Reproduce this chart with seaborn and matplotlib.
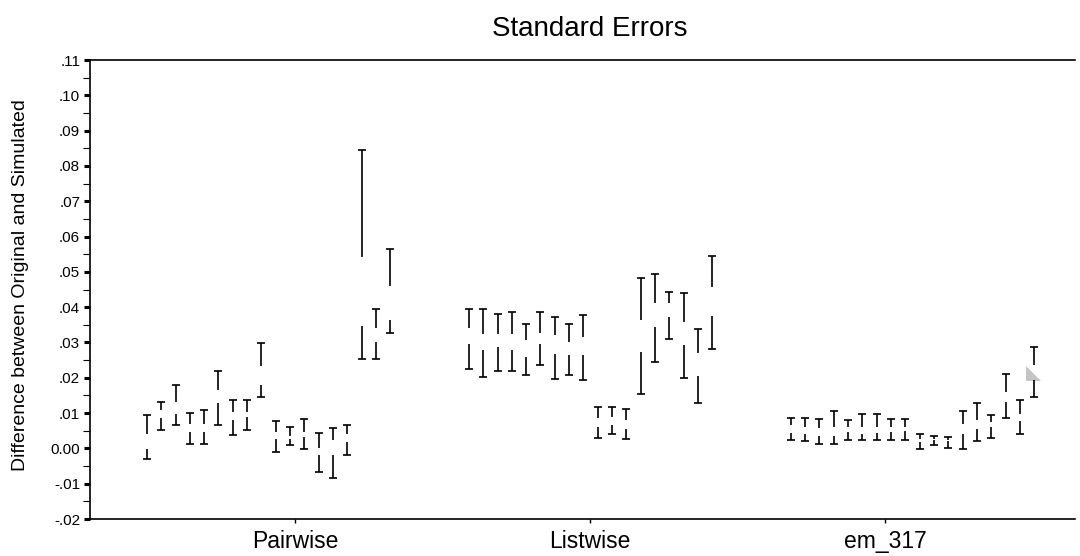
import numpy as np
import matplotlib
matplotlib.use("Agg")
import matplotlib.pyplot as plt
import seaborn as sns
from matplotlib.ticker import FuncFormatter, MultipleLocator

sns.set_theme(style="white")
plt.rcParams['font.family'] = ['Liberation Sans', 'DejaVu Sans']
plt.rcParams['text.color'] = 'black'
plt.rcParams['axes.labelcolor'] = 'black'
plt.rcParams['xtick.color'] = 'black'
plt.rcParams['ytick.color'] = 'black'

categories = ["Pairwise", "Listwise", "em_317"]

# each bar: top cap, end of upper piece, start of lower piece, bottom cap
pw_hi = [.0096, .0132, .0181, .0100, .0110, .0219, .0136, .0136, .0299,
         .0079, .0060, .0084, .0043, .0058, .0065, .0844, .0396, .0564]
pw_a = [.0042, .0108, .0131, .0068, .0068, .0165, .0103, .0103, .0233,
        .0046, .0034, .0046, .0002, .0025, .0042, .0541, .0341, .0460]
pw_b = [-.0001, .0087, .0098, .0046, .0046, .0129, .0081, .0089, .0179,
        .0028, .0026, .0032, -.0020, -.0020, .0018, .0348, .0300, .0363]
pw_lo = [-.0031, .0053, .0065, .0013, .0013, .0065, .0039, .0053, .0146,
         -.0010, .0009, -.0001, -.0067, -.0084, -.0018, .0252, .0252, .0327]

lw_hi = [.0394, .0394, .0380, .0387, .0352, .0385, .0372, .0352, .0378,
         .0118, .0118, .0113, .0483, .0494, .0443, .0441, .0338, .0546]
lw_a = [.0342, .0325, .0325, .0323, .0306, .0327, .0321, .0302, .0316,
        .0085, .0090, .0080, .0363, .0412, .0412, .0358, .0269, .0456]
lw_b = [.0295, .0278, .0287, .0278, .0259, .0295, .0267, .0264, .0264,
        .0060, .0065, .0055, .0273, .0344, .0371, .0292, .0204, .0374]
lw_lo = [.0224, .0202, .0219, .0219, .0207, .0237, .0198, .0207, .0193,
         .0030, .0040, .0028, .0153, .0245, .0311, .0199, .0130, .0282]

em_hi = [.0087, .0087, .0082, .0105, .0081, .0098, .0098, .0084, .0082,
         .0040, .0034, .0032, .0106, .0129, .0096, .0212, .0136, .0287]
em_a = [.0065, .0060, .0059, .0060, .0060, .0062, .0060, .0060, .0060,
        .0027, .0027, .0025, .0070, .0081, .0075, .0160, .0098, .0235]
em_b = [.0043, .0042, .0034, .0034, .0046, .0042, .0043, .0046, .0050,
        .0018, .0023, .0020, .0040, .0056, .0062, .0131, .0077, .0193]
em_lo = [.0023, .0021, .0013, .0013, .0023, .0023, .0023, .0023, .0025,
         -.0001, .0009, .0002, -.0001, .0021, .0029, .0087, .0040, .0146]

groups = [(pw_hi, pw_a, pw_b, pw_lo), (lw_hi, lw_a, lw_b, lw_lo),
          (em_hi, em_a, em_b, em_lo)]

fig = plt.figure(figsize=(10.8, 5.56), dpi=100)
ax = fig.add_axes([0.0833, 0.0665, 0.912, 0.8255])

gap = 22.5   # slots between cluster starts
cap = 0.28
for g, (hi, a, b, lo) in enumerate(groups):
    x = np.arange(len(hi)) + gap * g
    ax.vlines(x, a, hi, color="black", lw=1.2)
    ax.vlines(x, lo, b, color="black", lw=1.2)
    ax.hlines(hi, x - cap, x + cap, color="black", lw=1.2)
    ax.hlines(lo, x - cap, x + cap, color="black", lw=1.2)

# grey pointer shape left on the chart
tri_x = [61.43, 61.43, 62.48]
tri_y = [.0233, .0190, .0190]
ax.fill(tri_x, tri_y, color="#c4c4c4", lw=0)

ax.set_xlim(-3.98, 64.85)
ax.set_ylim(-.02, .11)
ax.set_xticks([10.34, 30.96, 51.57])
ax.set_xticklabels(categories, fontsize=16.5)

ax.yaxis.set_major_locator(MultipleLocator(.01))
ax.yaxis.set_minor_locator(MultipleLocator(.005))


def fmt(v, pos):
    if abs(v) < 1e-9:
        return "0.00"
    s = "%.2f" % v
    return s.replace("0.", ".")


ax.yaxis.set_major_formatter(FuncFormatter(fmt))
ax.tick_params(axis="y", which="major", length=4, width=2.2, labelsize=11,
               left=True, pad=3)
ax.tick_params(axis="y", which="minor", length=5, width=0.8, left=True)
ax.tick_params(axis="x", which="major", length=3, width=1, bottom=True,
               pad=5)

for side in ["left", "bottom", "top"]:
    ax.spines[side].set_color("black")
    ax.spines[side].set_linewidth(1.2)
ax.spines["right"].set_visible(False)

ax.set_ylabel("Difference between Original and Simulated", fontsize=14)
ax.yaxis.set_label_coords(-0.062, 0.51)
fig.text(0.546, 0.948, "Standard Errors", fontsize=20, ha="center",
         va="center")

fig.savefig("out.png", dpi=100, facecolor="white")
